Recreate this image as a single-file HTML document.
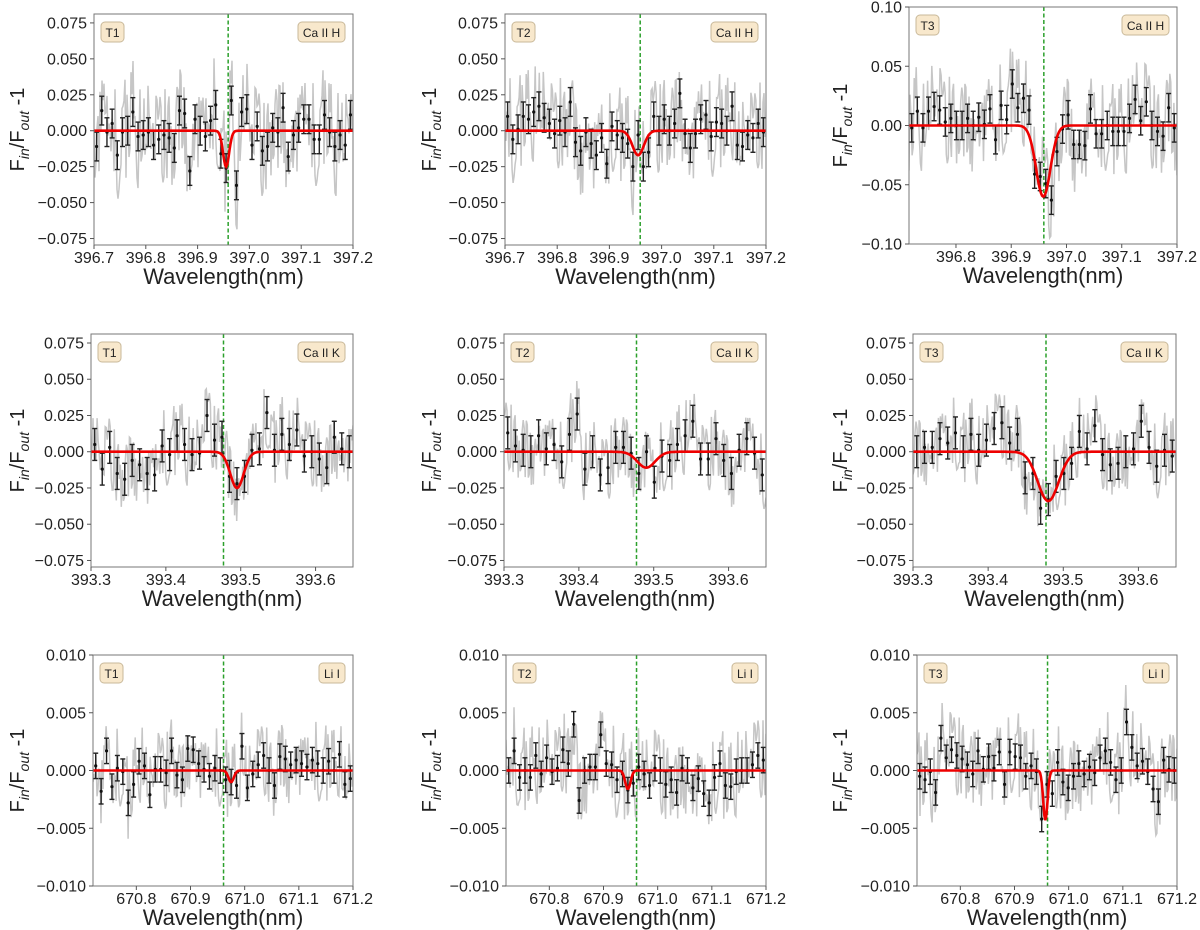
<!DOCTYPE html>
<html><head><meta charset="utf-8">
<style>
html,body{margin:0;padding:0;background:#fff;}
#fig{width:1200px;height:930px;position:relative;overflow:hidden;}
svg text{font-family:"Liberation Sans","DejaVu Sans",sans-serif;}
</style></head>
<body>
<div id="fig">
<svg id="svg" width="1200" height="930" xmlns="http://www.w3.org/2000/svg"></svg>
</div>
<script>
// ---- data (values in panel units, scaled by unit factor) ----
const binned1 = [-11,14,-1,5,-17,-1,0,13,-4,-3,-1,-10,-6,-3,-5,-12,14,12,-28,8,0,-4,7,18,-16,-26,21,-38,13,15,-10,3,-14,-11,2,-1,16,-18,-3,2,8,8,-6,-6,11,-1,-11,-3,-10,11];
const binned2 = [10,-6,1,10,8,13,17,9,5,-2,7,-1,20,-8,-14,-1,-9,-17,-5,-23,3,-3,-5,-9,-25,-3,-25,-15,10,0,8,0,5,26,-2,-12,-2,8,11,-4,6,5,0,17,-10,-11,-3,-5,5,-1];
const binned3 = [-2,12,-2,12,16,13,3,6,0,0,6,0,7,1,14,-12,17,5,35,15,23,13,-41,-43,-49,-63,-22,-3,9,-16,-16,-17,14,-7,-7,0,-5,-5,-5,6,22,4,20,0,-5,-9,15,-2];
const binned4 = [5,-12,3,-15,-19,-6,-9,-15,-16,4,-2,11,5,-2,-1,25,8,10,-17,-22,-17,1,2,27,1,12,5,15,-3,0,-5,-11,10,2,0];
const binned5 = [13,4,1,0,11,2,5,-7,12,26,-12,0,-16,-11,3,3,-1,-15,0,-21,-3,-6,5,11,21,-5,-5,9,-6,-15,1,9,-1,-16];
const binned6 = [0,3,3,9,6,13,0,12,1,8,16,20,6,12,-18,-15,-39,-33,-17,-15,-8,14,2,18,-2,-9,-8,0,2,21,3,-10,1,-3];
const binned7 = [4,-18,17,-14,2,-1,-28,-12,8,4,-21,1,1,-2,17,-4,-8,19,18,6,1,-5,2,0,-8,-10,-13,21,-15,-3,5,13,0,-13,12,10,5,9,6,3,9,6,0,8,0,14,-12,-7];
const binned8 = [0,17,-6,0,-6,13,-3,11,-1,2,18,6,40,-26,0,3,3,31,6,5,-8,-3,-17,-11,3,-3,-13,2,0,-12,-8,-19,2,0,-15,-7,-20,-28,-6,6,-13,-14,-1,0,0,5,13,9];
const binned9 = [-5,-8,-1,-19,28,11,18,13,10,5,-3,17,1,12,2,16,-12,16,12,11,-5,4,-1,-42,-12,-20,7,-10,-15,-5,6,-3,3,-2,11,17,7,-8,0,42,20,4,8,-1,-16,-27,9,1,0];
const noise = [3,-7,9,-2,-9,5,1,-6,8,-4,2,-10,6,0,-3,7,-8,4,-1,10,-5,3,-7,6,-2,9,-9,1,4,-6,8,-3,-5,7,0,-8,5,-1,9,-4,2,-7,6,-9,3,8,-2,-6,10,-3,1,-8,4,7,-5,0,6,-10,2,5,-4,9,-7,3,-1,-6,8,-2,4,-9,7,1,-5,6,-3,10,-8,2,-4,5,-7,9,0,-6,3,-2,8,-9,4,1,-5,7,-3,6,-8,2,-4,5,-1];
// fit params: centre, depth, sigma
const fitCentres = [396.955,396.955,396.958,393.495,393.490,393.480,670.975,670.945,670.957];
const fitDepths  = [0.025,0.017,0.060,0.025,0.011,0.034,0.0010,0.0016,0.0043];
const fitSigmas  = [0.006,0.011,0.013,0.009,0.012,0.014,0.005,0.005,0.004];
const restLines  = [396.959,396.959,396.959,393.477,393.477,393.477,670.961,670.961,670.961];
const starLabels = ["T1","T2","T3","T1","T2","T3","T1","T2","T3"];
const lineLabels = ["Ca II H","Ca II H","Ca II H","Ca II K","Ca II K","Ca II K","Li I","Li I","Li I"];
const ticksA = [-0.075,-0.05,-0.025,0,0.025,0.05,0.075];
const ticksB = [-0.10,-0.05,0,0.05,0.10];
const ticksC = [-0.010,-0.005,0,0.005,0.010];
const xt1 = [396.7,396.8,396.9,397.0,397.1,397.2];
const xt3 = [396.8,396.9,397.0,397.1,397.2];
const xt4 = [393.3,393.4,393.5,393.6];
const xt7 = [670.8,670.9,671.0,671.1,671.2];

const NS="http://www.w3.org/2000/svg";
const svg=document.getElementById('svg');
function mk(tag,attrs,parent){const e=document.createElementNS(NS,tag);for(const k in attrs)e.setAttribute(k,attrs[k]);(parent||svg).appendChild(e);return e;}

const panels=[
 {b:binned1,u:0.001,err:0.010,ns:0.036,box:[94,14,353,245],xl:[396.7,397.2],yl:[-0.0795,0.0812],yt:ticksA,yd:3,xt:xt1},
 {b:binned2,u:0.001,err:0.010,ns:0.034,box:[505,14,766,245],xl:[396.7,397.2],yl:[-0.0795,0.0812],yt:ticksA,yd:3,xt:xt1},
 {b:binned3,u:0.001,err:0.012,ns:0.040,box:[909,7,1177,244],xl:[396.715,397.2],yl:[-0.1,0.1],yt:ticksB,yd:2,xt:xt3},
 {b:binned4,u:0.001,err:0.011,ns:0.026,box:[91,334,353,567],xl:[393.3,393.65],yl:[-0.0795,0.0812],yt:ticksA,yd:3,xt:xt4},
 {b:binned5,u:0.001,err:0.011,ns:0.026,box:[504,334,766,567],xl:[393.3,393.65],yl:[-0.0795,0.0812],yt:ticksA,yd:3,xt:xt4},
 {b:binned6,u:0.001,err:0.011,ns:0.026,box:[913,334,1176,567],xl:[393.3,393.65],yl:[-0.0795,0.0812],yt:ticksA,yd:3,xt:xt4},
 {b:binned7,u:0.0001,err:0.0011,ns:0.0035,box:[93,655,353,886],xl:[670.72,671.2],yl:[-0.01,0.01],yt:ticksC,yd:3,xt:xt7},
 {b:binned8,u:0.0001,err:0.0011,ns:0.0038,box:[506,655,766,886],xl:[670.72,671.2],yl:[-0.01,0.01],yt:ticksC,yd:3,xt:xt7},
 {b:binned9,u:0.0001,err:0.0011,ns:0.0038,box:[917,655,1177,886],xl:[670.72,671.2],yl:[-0.01,0.01],yt:ticksC,yd:3,xt:xt7}
];

panels.forEach((p,pi)=>{
 const [L,T,R,B]=p.box;
 const X=v=>L+(v-p.xl[0])/(p.xl[1]-p.xl[0])*(R-L);
 const Y=v=>B-(v-p.yl[0])/(p.yl[1]-p.yl[0])*(B-T);
 const g=mk('g',{});
 
 
 const cid='clip'+pi;
 const cp=mk('clipPath',{id:cid},g); mk('rect',{x:L,y:T,width:R-L,height:B-T},cp);
 const pg=mk('g',{'clip-path':'url(#'+cid+')'},g);
 const n=p.b.length, x0=p.xl[0]+0.005, x1=p.xl[1]-0.005;
 const bx=i=>x0+(x1-x0)*i/(n-1);
 // gray spectrum
 const M=260; let d='';
 for(let i=0;i<M;i++){
  const xv=p.xl[0]+(p.xl[1]-p.xl[0])*i/(M-1);
  const f=(xv-x0)/(x1-x0)*(n-1); const k=Math.max(0,Math.min(n-2,Math.floor(f))); const t=Math.max(0,Math.min(1,f-k));
  const base=(p.b[k]*(1-t)+p.b[k+1]*t)*p.u;
  const yv=base+p.ns*noise[(i*7+pi*13)%noise.length]/10;
  d+=(i?'L':'M')+X(xv).toFixed(1)+','+Y(yv).toFixed(1);
 }
 const gl=mk('path',{d:d,fill:'none',stroke:'#c6c6c6','stroke-width':1.5},pg);
 
 
 // green rest line
 const rl=mk('line',{x1:X(restLines[pi]),x2:X(restLines[pi]),y1:T,y2:B,stroke:'#2ca02c','stroke-width':1.5,'stroke-dasharray':'4,2.5'},pg);
 
 
 // error bars
 p.b.forEach((v,i)=>{
  const cx=X(bx(i)), cy=Y(v*p.u), y1=Y(v*p.u+p.err), y2=Y(v*p.u-p.err);
  const eb=mk('g',{stroke:'#222','stroke-width':1.4},pg);
  
  
  mk('line',{x1:cx,x2:cx,y1:y1,y2:y2},eb);
  mk('line',{x1:cx-2.5,x2:cx+2.5,y1:y1,y2:y1},eb);
  mk('line',{x1:cx-2.5,x2:cx+2.5,y1:y2,y2:y2},eb);
  mk('circle',{cx:cx,cy:cy,r:1.6,fill:'#111',stroke:'none'},eb);
 });
 // fit
 let fd='';
 for(let i=0;i<=300;i++){
  const xv=p.xl[0]+(p.xl[1]-p.xl[0])*i/300;
  const yv=-fitDepths[pi]*Math.exp(-0.5*Math.pow((xv-fitCentres[pi])/fitSigmas[pi],2));
  fd+=(i?'L':'M')+X(xv).toFixed(1)+','+Y(yv).toFixed(1);
 }
 const fl=mk('path',{d:fd,fill:'none',stroke:'#ee0000','stroke-width':2.6},pg);
 
 
 // frame
 const fr=mk('rect',{x:L,y:T,width:R-L,height:B-T,fill:'none',stroke:'#777','stroke-width':1},g);
 
 
 // y ticks
 p.yt.forEach(v=>{
  const y=Y(v);
  mk('line',{x1:L-4,x2:L,y1:y,y2:y,stroke:'#555','stroke-width':1},g);
  const t=mk('text',{x:L-7,y:y+5.5,'text-anchor':'end','font-size':16,fill:'#222'},g);
  t.textContent=(v<0?'\u2212':'')+Math.abs(v).toFixed(p.yd);
  
  
 });
 p.xt.forEach(v=>{
  const x=X(v);
  mk('line',{x1:x,x2:x,y1:B,y2:B+4,stroke:'#555','stroke-width':1},g);
  const t=mk('text',{x:x,y:B+18,'text-anchor':'middle','font-size':16,fill:'#222'},g);
  t.textContent=v.toFixed(1);
  
  
 });
 // axis labels
 const xlab=mk('text',{x:(L+R)/2,y:B+39,'text-anchor':'middle','font-size':22,fill:'#222'},g);
 xlab.textContent='Wavelength(nm)';
 
 
 const col=pi%3, yx=[24,436,847][col], yc=(T+B)/2;
 const ylab=mk('text',{x:yx,y:yc,'text-anchor':'middle','font-size':20,fill:'#222',transform:'rotate(-90 '+yx+' '+yc+')'},g);
 ylab.innerHTML='F<tspan font-size="14" dy="5" font-style="italic">in</tspan><tspan dy="-5">/F</tspan><tspan font-size="14" dy="5" font-style="italic">out</tspan><tspan dy="-5"> -1</tspan>';
 
 
 // label boxes
 const bw1=23;
 const b1=mk('rect',{x:L+7,y:T+8,width:bw1,height:20,rx:4,fill:'#f8e8cc',stroke:'#c9b99a','stroke-width':1},g);
 
 
 const t1=mk('text',{x:L+7+bw1/2,y:T+23,'text-anchor':'middle','font-size':12,fill:'#222'},g);
 t1.textContent=starLabels[pi];
 
 
 const bw2=lineLabels[pi].length>4?47:26;
 const b2=mk('rect',{x:R-8-bw2,y:T+8,width:bw2,height:20,rx:4,fill:'#f8e8cc',stroke:'#c9b99a','stroke-width':1},g);
 
 
 const t2=mk('text',{x:R-8-bw2/2,y:T+23,'text-anchor':'middle','font-size':12,fill:'#222'},g);
 t2.textContent=lineLabels[pi];
 
 
});
</script>
</body></html>
